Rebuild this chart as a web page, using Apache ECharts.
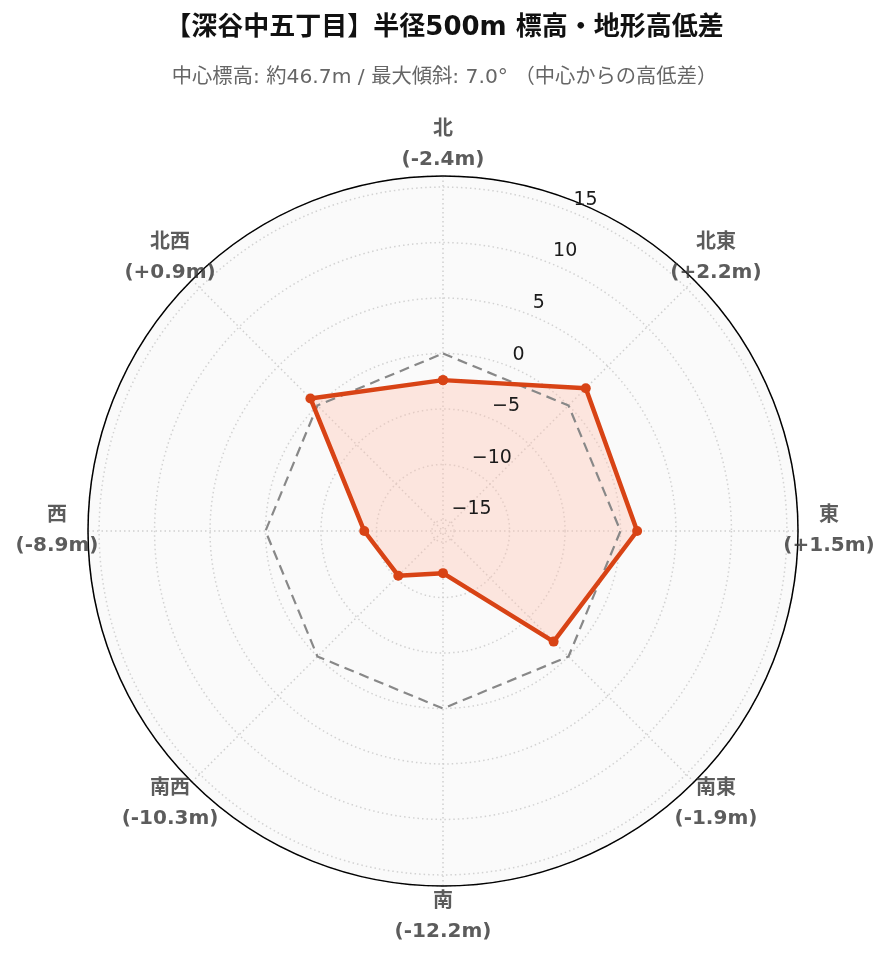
<!DOCTYPE html>
<html style="height: 100%">

<head>
	<meta charset="utf-8">
</head>

<body style="height: 100%; margin: 0; background: #fff">
	<div id="container" style="height: 100%"></div>
	<script type="text/javascript" src="https://cdn.jsdelivr.net/npm/echarts@6/dist/echarts.min.js"></script>
	<script type="text/javascript">
		// 方位と中心からの高低差 (m)
		let directions = ['北', '北東', '東', '南東', '南', '南西', '西', '北西'];
		let heightDiff = [-2.4, 2.2, 1.5, -1.9, -12.2, -10.3, -8.9, 0.9];
		let zeroRef = [0, 0, 0, 0, 0, 0, 0, 0]; // 中心標高ライン
		let titleText = '【深谷中五丁目】半径500m 標高・地形高低差';
		let subText = '中心標高: 約46.7m / 最大傾斜: 7.0° （中心からの高低差）';

		let fontFamily = "'DejaVu Sans', 'Noto Sans CJK JP', sans-serif";
		let center = [443, 531];
		let radius = 355;
		let rMin = -16;
		let rMax = 16;
		let pxPerUnit = radius / (rMax - rMin);
		let labelShift = 12; // 目盛ラベルを外側へずらす量 (px)
		let angles = directions.map(function (d, i) { return i * 360 / directions.length; });

		function closeLoop(values) {
			let pts = values.map(function (v, i) { return [v, angles[i]]; });
			pts.push([values[0], 360]);
			return pts;
		}

		function fmtDiff(v) {
			return (v > 0 ? '+' : '') + v.toFixed(1) + 'm';
		}

		function hiddenAngle(idx, start) {
			return {
				polarIndex: idx, type: 'value', min: 0, max: 360, startAngle: start,
				axisLine: { show: false }, axisTick: { show: false }, axisLabel: { show: false }, splitLine: { show: false }
			};
		}

		let dom = document.getElementById('container');
		let myChart = echarts.init(dom);

		let option = {
			backgroundColor: '#fff',
			textStyle: { fontFamily: fontFamily },
			title: [
				{
					text: titleText,
					left: 'center',
					top: 10,
					textStyle: { fontSize: 26, fontWeight: 'bold', color: '#111', fontFamily: fontFamily }
				},
				{
					text: subText,
					left: 'center',
					top: 63,
					textStyle: { fontSize: 20.3, fontWeight: 'normal', color: '#666', fontFamily: fontFamily }
				}
			],
			polar: [
				{ center: center, radius: radius },               // 0: 背景
				{ center: center, radius: radius },               // 1: 本体
				{ center: center, radius: radius + labelShift },  // 2: 半径ラベル
				{ center: center, radius: 386 }                   // 3: 方位ラベル
			],
			angleAxis: [
				hiddenAngle(0, 90),
				{
					polarIndex: 1,
					type: 'value',
					min: 0,
					max: 360,
					interval: 45,
					startAngle: 90,
					clockwise: true,
					z: 1,
					axisLine: { lineStyle: { color: '#000', width: 1.5 } },
					axisTick: { show: false },
					axisLabel: { show: false },
					splitLine: { lineStyle: { color: '#cfcfcf', type: [1.5, 3], width: 1.5 } }
				},
				hiddenAngle(2, 68.5),
				hiddenAngle(3, 90)
			],
			radiusAxis: [
				{
					polarIndex: 0,
					type: 'value',
					min: rMin,
					max: rMax,
					z: 0,
					axisLine: { show: false },
					axisTick: { show: false },
					axisLabel: { show: false },
					splitLine: { show: false },
					splitArea: { show: true, areaStyle: { color: ['#fafafa'] } }
				},
				{
					polarIndex: 1,
					type: 'value',
					min: rMin,
					max: rMax,
					z: 1,
					axisLine: { show: false },
					axisTick: { show: false },
					axisLabel: { show: false },
					splitLine: { lineStyle: { color: '#d2d2d2', type: [1.5, 3], width: 1.5 } }
				},
				{
					polarIndex: 2,
					type: 'value',
					min: rMin - labelShift / pxPerUnit,
					max: rMax,
					z: 10,
					axisLine: { show: false },
					axisTick: { show: false },
					splitLine: { show: false },
					axisLabel: {
						showMinLabel: false,
						showMaxLabel: false,
						margin: 0,
						align: 'left',
						verticalAlign: 'middle',
						fontSize: 19,
						color: '#1a1a1a',
						formatter: function (v) { return String(v).replace('-', '\u2212'); }
					}
				},
				{
					polarIndex: 3, type: 'value', min: 0, max: 1,
					axisLine: { show: false }, axisTick: { show: false }, axisLabel: { show: false }, splitLine: { show: false }
				}
			],
			series: [
				{
					name: '高低差 (面)',
					type: 'line',
					coordinateSystem: 'polar',
					polarIndex: 1,
					symbol: 'none',
					silent: true,
					lineStyle: { width: 0 },
					areaStyle: { color: 'rgba(255, 195, 178, 0.55)', origin: 'start' },
					data: closeLoop(heightDiff),
					z: 2
				},
				{
					name: '中心標高',
					type: 'line',
					coordinateSystem: 'polar',
					polarIndex: 1,
					symbol: 'none',
					lineStyle: { color: '#888', width: 2.2, type: [10, 6] },
					data: closeLoop(zeroRef),
					z: 3
				},
				{
					name: '高低差',
					type: 'line',
					coordinateSystem: 'polar',
					polarIndex: 1,
					symbol: 'circle',
					symbolSize: 10,
					itemStyle: { color: '#d84315' },
					lineStyle: { color: '#d84315', width: 4.5 },
					data: closeLoop(heightDiff),
					z: 4
				},
				{
					name: '方位',
					type: 'scatter',
					coordinateSystem: 'polar',
					polarIndex: 3,
					clip: false,
					silent: true,
					symbolSize: 1,
					itemStyle: { color: 'rgba(0,0,0,0)' },
					label: {
						show: true,
						position: 'inside',
						formatter: function (p) {
							return '{d|' + directions[p.dataIndex] + '}\n{v|(' + fmtDiff(heightDiff[p.dataIndex]) + ')}';
						},
						rich: {
							d: { fontSize: 20, fontWeight: 'bold', color: '#333', lineHeight: 30, fontFamily: fontFamily },
							v: { fontSize: 20, fontWeight: 'bold', color: '#333', lineHeight: 30, fontFamily: fontFamily }
						}
					},
					data: angles.map(function (a) { return [1, a]; })
				}
			]
		};

		myChart.setOption(option);
	</script>
</body>

</html>
